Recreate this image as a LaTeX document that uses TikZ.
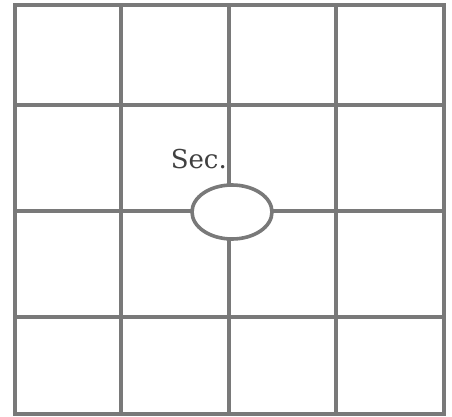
\documentclass[tikz,border=0pt]{standalone}
\usepackage{fontspec}
\newfontfamily\labelfont{DejaVu Serif}
\usetikzlibrary{shapes.geometric}
\begin{document}
\begin{tikzpicture}[x=1pt,y=-1pt,
  gridline/.style={draw=gray!95!black,line width=3.8pt,line cap=rect},
  hole/.style={ellipse,draw=gray!95!black,line width=3.6pt,fill=white,minimum width=80pt,minimum height=54pt,inner sep=0pt},
  lbl/.style={font=\labelfont\fontsize{26}{30}\selectfont,text=black!75,inner sep=0pt,anchor=base east}]
\useasboundingbox (0,0) rectangle (452,417);
\foreach \x in {15,121,229,336,444} \draw[gridline] (\x,5) -- (\x,414);
\foreach \y in {5,105,211,317,414} \draw[gridline] (15,\y) -- (444,\y);
\node[hole] (sec) at (232,212) {};
\node[lbl] (label) at (227,168) {Sec.};
\end{tikzpicture}
\end{document}
